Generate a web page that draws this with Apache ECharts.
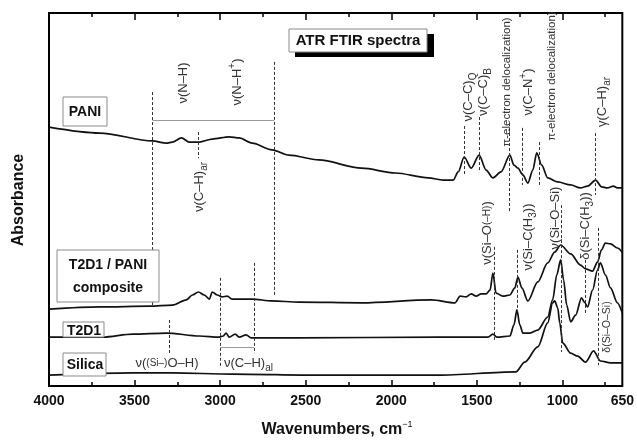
<!DOCTYPE html>
<html><head><meta charset="utf-8">
<script src="https://cdn.jsdelivr.net/npm/echarts@6/dist/echarts.min.js"></script>
<style>html,body{margin:0;padding:0;background:#fff}#c{width:637px;height:440px}</style>
</head><body><div id="c"></div>
<script>
// ---- data (wavenumber cm^-1, relative absorbance) ----
const xMajorTicks = [4000, 3500, 3000, 2500, 2000, 1500, 1000];
const xMinorTicks = [3750, 3250, 2750, 2250, 1750, 1250, 750];
const xTickLabels = [4000, 3500, 3000, 2500, 2000, 1500, 1000, 650];

const paniSpectrum = [[4000,0.694],[3703,0.678],[3395,0.657],[3314,0.651],[3279,0.654],[3226,0.665],[3180,0.654],[3122,0.654],[3046,0.662],[2947,0.668],[2889,0.665],[2813,0.651],[2697,0.633],[2598,0.619],[2424,0.606],[2173,0.584],[1976,0.571],[1784,0.558],[1696,0.552],[1638,0.552],[1609,0.574],[1574,0.614],[1533,0.584],[1487,0.619],[1446,0.579],[1406,0.558],[1359,0.574],[1307,0.619],[1283,0.592],[1260,0.584],[1231,0.566],[1202,0.544],[1173,0.579],[1150,0.625],[1121,0.592],[1086,0.558],[1027,0.547],[952,0.539],[894,0.531],[853,0.536],[806,0.552],[771,0.534],[737,0.531],[702,0.536],[679,0.531],[650,0.531]];

const compositeSpectrum = [[4000,0.206],[3703,0.212],[3412,0.214],[3279,0.217],[3197,0.231],[3162,0.244],[3127,0.252],[3093,0.244],[3063,0.233],[3046,0.252],[3017,0.244],[2988,0.239],[2959,0.241],[2930,0.233],[2813,0.233],[2697,0.228],[2540,0.225],[2173,0.223],[1766,0.231],[1627,0.223],[1598,0.241],[1563,0.239],[1533,0.247],[1504,0.241],[1475,0.247],[1446,0.247],[1423,0.257],[1406,0.303],[1388,0.249],[1348,0.241],[1307,0.244],[1278,0.263],[1260,0.292],[1237,0.263],[1202,0.228],[1144,0.279],[1086,0.330],[1045,0.359],[1010,0.378],[952,0.354],[894,0.324],[865,0.314],[824,0.308],[795,0.332],[772,0.365],[749,0.383],[719,0.381],[679,0.370],[650,0.359]];

const t2d1Spectrum = [[4000,0.131],[3686,0.131],[3511,0.139],[3314,0.142],[3122,0.134],[3005,0.131],[2982,0.134],[2965,0.142],[2947,0.131],[2912,0.139],[2889,0.131],[2848,0.137],[2819,0.129],[2540,0.129],[1726,0.131],[1435,0.131],[1406,0.139],[1383,0.131],[1307,0.134],[1283,0.164],[1266,0.204],[1249,0.164],[1231,0.142],[1190,0.142],[1144,0.150],[1086,0.185],[1057,0.231],[1033,0.298],[1010,0.338],[993,0.284],[975,0.217],[952,0.172],[923,0.190],[888,0.236],[871,0.225],[853,0.212],[824,0.257],[795,0.311],[778,0.330],[749,0.298],[719,0.263],[679,0.223],[650,0.196]];

const silicaSpectrum = [[4000,0.029],[3511,0.035],[3279,0.035],[2930,0.032],[2424,0.029],[1726,0.029],[1272,0.038],[1220,0.064],[1144,0.105],[1086,0.169],[1057,0.223],[1045,0.228],[1027,0.209],[1016,0.170],[998,0.115],[952,0.088],[911,0.080],[865,0.064],[818,0.094],[778,0.067],[719,0.062],[650,0.062]];

// band-assignment guide lines: [wavenumber, from absorbance, to absorbance]
const bandMarkers = [[3395,0.788,0.217],[2685,0.869,0.239],[3127,0.681,0.611],[1574,0.697,0.566],[1487,0.721,0.574],[1313,0.705,0.469],[1237,0.692,0.539],[1138,0.654,0.539],[806,0.678,0.512],[1400,0.373,0.123],[1266,0.365,0.198],[1004,0.485,0.091],[865,0.338,0.190],[789,0.424,0.056],[3296,0.177,0.083],[2999,0.290,0.048],[2802,0.330,0.088]];
const bandRanges = [[3395,2685,0.713],[2999,2802,0.105]];

const FONT = '"Liberation Sans", Arial, sans-serif';
const chart = echarts.init(document.getElementById('c'), null, {renderer:'canvas'});

function mkLine(d){ return {type:'line', data:d, showSymbol:false, smooth:0.3, smoothMonotone:'x',
  lineStyle:{color:'#111', width:1.7}, silent:true, animation:false}; }

const markData = bandMarkers.map(m => [{coord:[m[0], m[1]]},{coord:[m[0], m[2]]}])
  .concat(bandRanges.map(r => [{coord:[r[0], r[2]], lineStyle:{type:'solid', color:'#999'}},{coord:[r[1], r[2]]}]));

const silicaSeries = mkLine(silicaSpectrum);
silicaSeries.markLine = {silent:true, symbol:['none','none'], label:{show:false}, animation:false,
  lineStyle:{type:[3,2], color:'#333', width:1}, data:markData};

function axisX(pos, ticks, len, labels){
  return {type:'value', min:650, max:4000, inverse:true, position:pos,
    axisLine:{show:false}, splitLine:{show:false},
    axisTick:{show:true, inside:true, length:len, customValues:ticks, lineStyle:{color:'#000', width:1.5}},
    axisLabel: labels ? {show:true, customValues:labels, formatter:(v)=>String(v), fontFamily:FONT, fontWeight:'bold', fontSize:14, color:'#111', margin:8} : {show:false}};
}

const small = 13;
function rich(sz){ return {
  n:{fontFamily:FONT, fontSize:sz, fill:'#333', color:'#333', lineHeight:20, verticalAlign:'middle'},
  s:{fontFamily:FONT, fontSize:sz-3, fill:'#333', color:'#333', lineHeight:9, verticalAlign:'bottom'},
  p:{fontFamily:FONT, fontSize:sz-3, fill:'#333', color:'#333', lineHeight:9, verticalAlign:'top'},
  m:{fontFamily:FONT, fontSize:sz-3, fill:'#333', color:'#333', lineHeight:20, verticalAlign:'middle'}
};}
function vlabel(x, y, text, sz){ return {type:'text', x:x, y:y, rotation:Math.PI/2, z:50,
  style:{text:text, rich:rich(sz||small), align:'center', verticalAlign:'middle', fill:'#333'}}; }
function hlabel(x, y, text, align){ return {type:'text', x:x, y:y, z:50,
  style:{text:text, rich:rich(13), align:align, verticalAlign:'middle', fill:'#333'}}; }
function box(x,y,w,h){ return {type:'rect', shape:{x:x,y:y,width:w,height:h}, z:60,
  style:{fill:'#fff', stroke:'#8a8a8a', lineWidth:1}}; }
function btext(x,y,t,lh){ return {type:'text', x:x, y:y, z:61,
  style:{text:t, font:'bold 14px '+FONT, fill:'#111', align:'center', verticalAlign:'middle', lineHeight:lh||16}}; }

const graphics = [
  // title
  {type:'rect', shape:{x:295,y:34,width:139,height:23}, z:60, style:{fill:'#000'}},
  {type:'rect', shape:{x:289,y:29,width:138,height:23}, z:61, style:{fill:'#fff', stroke:'#8a8a8a', lineWidth:1}},
  {type:'text', x:358, y:41, z:62, style:{text:'ATR FTIR spectra', font:'bold 15px '+FONT, fill:'#111', align:'center', verticalAlign:'middle'}},
  // sample boxes
  box(63,97,44,29), btext(85,112,'PANI'),
  box(57,250,102,52), btext(108,277,'T2D1 / PANI\ncomposite',23),
  box(63,322,41,15), btext(84,331,'T2D1'),
  box(63,353,43,23), btext(85,365,'Silica'),
  // axis titles
  {type:'text', x:19, y:200, rotation:Math.PI/2, z:50, style:{text:'Absorbance', font:'bold 16px '+FONT, fill:'#111', align:'center', verticalAlign:'middle'}},
  {type:'text', x:337, y:430, z:50, style:{text:'{a|Wavenumbers, cm}{b|−1}', align:'center', verticalAlign:'middle',
     rich:{a:{fontFamily:FONT, fontWeight:'bold', fontSize:16, fill:'#111', lineHeight:20, verticalAlign:'middle'},
           b:{fontFamily:FONT, fontSize:9, fill:'#111', lineHeight:9, verticalAlign:'top'}}}},
  // band labels
  vlabel(183,83,'{n|ν(N–H)}'),
  vlabel(237,82,'{n|ν(N–H}{p|+}{n|)}'),
  vlabel(199,187,'{n|ν(C–H)}{s|ar}'),
  vlabel(468,97,'{n|ν(C–C)}{s|Q}'),
  vlabel(483,92,'{n|ν(C–C)}{s|B}'),
  vlabel(507,82,'{n|π-electron delocalization)}',11.5),
  vlabel(528,92,'{n|ν(C–N}{p|+}{n|)}'),
  vlabel(552,76,'{n|π-electron delocalization)}',11.5),
  vlabel(602,102,'{n|γ(C–H)}{s|ar}'),
  vlabel(487,233,'{n|ν(Si–O}{m|(–H)}{n|)}'),
  vlabel(528,237,'{n|ν(Si–C(H}{s|3}{n|))}'),
  vlabel(555,218,'{n|ν(Si–O–Si)}'),
  vlabel(585,226,'{n|δ(Si–C(H}{s|3}{n|))}'),
  vlabel(607,327,'{n|δ(Si–O–Si)}',10.5),
  hlabel(167,363,'{n|ν(}{m|(Si–)}{n|O–H)}','center'),
  hlabel(224,363,'{n|ν(C–H)}{s|al}','left')
];

chart.setOption({
  animation:false,
  backgroundColor:'#fff',
  grid:{left:49, right:12, top:13, bottom:54, show:true, borderColor:'#000', borderWidth:2, backgroundColor:'transparent'},
  xAxis:[axisX('bottom', xMajorTicks, 6, xTickLabels), axisX('bottom', xMinorTicks, 4, null),
         axisX('top', xMajorTicks, 7, null), axisX('top', xMinorTicks, 4, null)],
  yAxis:{type:'value', min:0, max:1, show:false},
  series:[mkLine(paniSpectrum), mkLine(compositeSpectrum), mkLine(t2d1Spectrum), silicaSeries],
  graphic:graphics
});
</script></body></html>
